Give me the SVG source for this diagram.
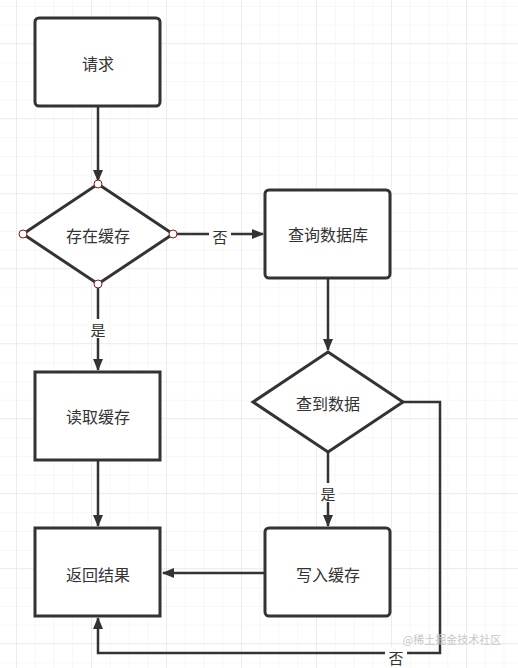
<svg xmlns="http://www.w3.org/2000/svg" width="518" height="668" viewBox="0 0 518 668">
<defs>
<pattern id="minor" x="16" y="6" width="18.75" height="18.75" patternUnits="userSpaceOnUse">
<path d="M0 0H18.75M0 0V18.75" fill="none" stroke="#efefef" stroke-width="1"/>
</pattern>
<pattern id="major" x="16" y="43" width="75" height="75" patternUnits="userSpaceOnUse">
<path d="M0 0H75M0 0V75" fill="none" stroke="#e2e2e2" stroke-width="1"/>
</pattern>
<marker id="arr" markerWidth="12" markerHeight="12" viewBox="0 0 12 12" refX="11" refY="6" orient="auto" markerUnits="userSpaceOnUse">
<path d="M0 1L12 6L0 11Z" fill="#333"/>
</marker>
</defs>
<style>
.box{fill:#fff;stroke:#333;stroke-width:3}
.t{font-family:"Noto Sans CJK SC","Liberation Sans",sans-serif;font-size:16px;fill:#333;text-anchor:middle;dominant-baseline:central}
.lbl{font-family:"Noto Sans CJK SC","Liberation Sans",sans-serif;font-size:15px;fill:#333;text-anchor:middle;dominant-baseline:central}
.c{fill:none;stroke:#333;stroke-width:2.5}
.h{fill:#fff;stroke:#8b1a1a;stroke-width:1}
</style>
<rect width="518" height="668" fill="#fff"/>
<rect width="518" height="668" fill="url(#minor)"/>
<rect width="518" height="668" fill="url(#major)"/>
<g id="connectors">
<path class="c" d="M98 107V181" marker-end="url(#arr)"/>
<path class="c" d="M173 234H263" marker-end="url(#arr)"/>
<path class="c" d="M98 284V370" marker-end="url(#arr)"/>
<path class="c" d="M98 460V526" marker-end="url(#arr)"/>
<path class="c" d="M328 278V350" marker-end="url(#arr)"/>
<path class="c" d="M328 452V526" marker-end="url(#arr)"/>
<path class="c" d="M265 573H163" marker-end="url(#arr)"/>
<path class="c" d="M403 402H440V653H98V618" marker-end="url(#arr)"/>
<rect x="209" y="226" width="22" height="19" fill="#fff"/>
<text class="lbl" x="220" y="236">否</text>
<rect x="88" y="319" width="20" height="19" fill="#fff"/>
<text class="lbl" x="98" y="329">是</text>
<rect x="318" y="483" width="20" height="19" fill="#fff"/>
<text class="lbl" x="328" y="493">是</text>
<rect x="385" y="647" width="22" height="19" fill="#fff"/>
<text class="lbl" x="396" y="657">否</text>
</g>
<g id="n1">
<rect class="box" x="35" y="18" width="125" height="88" rx="4"/>
<text class="t" x="98" y="63">请求</text>
</g>
<g id="n2">
<path class="box" d="M98 184L173 234L98 284L23 234Z"/>
<text class="t" x="98" y="235">存在缓存</text>
<circle class="h" cx="98" cy="184" r="4"/>
<circle class="h" cx="173" cy="234" r="4"/>
<circle class="h" cx="98" cy="284" r="4"/>
<circle class="h" cx="23" cy="234" r="4"/>
</g>
<g id="n3">
<rect class="box" x="265" y="190" width="125" height="88" rx="4"/>
<text class="t" x="328" y="234">查询数据库</text>
</g>
<g id="n4">
<path class="box" d="M328 352L403 402L328 452L253 402Z"/>
<text class="t" x="328" y="403">查到数据</text>
</g>
<g id="n5">
<rect class="box" x="35" y="372" width="125" height="88"/>
<text class="t" x="98" y="416">读取缓存</text>
</g>
<g id="n6">
<rect class="box" x="35" y="528" width="125" height="88"/>
<text class="t" x="98" y="574">返回结果</text>
</g>
<g id="n7">
<rect class="box" x="265" y="528" width="125" height="88" rx="4"/>
<text class="t" x="328" y="574">写入缓存</text>
</g>
<text x="452" y="644" font-family="Noto Sans CJK SC, Liberation Sans, sans-serif" font-size="11" fill="#c8c8c8" text-anchor="middle">@稀土掘金技术社区</text>
</svg>
